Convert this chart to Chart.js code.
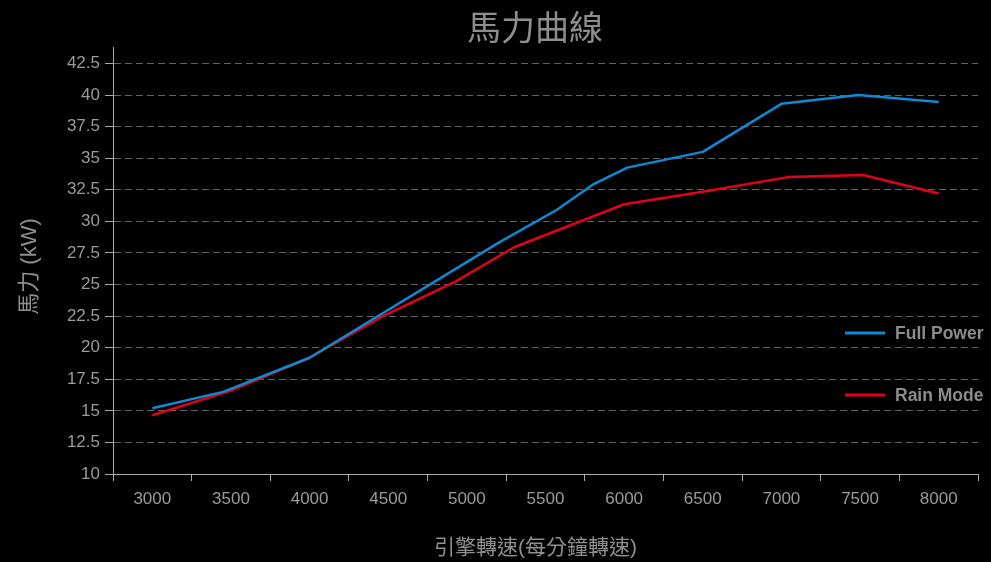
<!DOCTYPE html>
<html>
<head>
<meta charset="utf-8">
<title>馬力曲線</title>
<script src="https://cdn.jsdelivr.net/npm/chart.js@4.4.1/dist/chart.umd.min.js"></script>
<style>
	html, body { margin: 0; padding: 0; background: #000; }
	#wrap { width: 991px; height: 562px; position: relative; background: #000; }
</style>
</head>
<body>
<div id="wrap"><canvas id="mycanvas"></canvas></div>
<script>
// category labels shown under the x axis
var rpmLabels = ['3000', '3500', '4000', '4500', '5000', '5500', '6000', '6500', '7000', '7500', '8000'];
var yTickValues = [10, 12.5, 15, 17.5, 20, 22.5, 25, 27.5, 30, 32.5, 35, 37.5, 40, 42.5];

var seriesNames = ['Full Power', 'Rain Mode'];

// measured points (rpm, kW)
var fullPowerRpm = [3000, 3450, 4000, 5200, 5570, 5800, 6020, 6500, 7000, 7490, 8000];
var fullPowerKw  = [15.2, 16.5, 19.2, 28.3, 30.9, 32.9, 34.25, 35.5, 39.3, 40.0, 39.45];

var rainModeRpm = [3000, 3500, 4000, 4460, 4930, 5300, 6000, 6500, 7040, 7520, 8000];
var rainModeKw  = [14.65, 16.6, 19.2, 22.45, 25.25, 27.95, 31.35, 32.35, 33.5, 33.67, 32.2];

var FONT = "'Liberation Sans', 'Noto Sans CJK TC', sans-serif";

function toPoints(xs, ys) {
	var pts = [];
	for (var i in xs) {
		pts.push({x: xs[i], y: ys[i]});
	}
	return pts;
}

// titles and legend, placed like the original
var textPlugin = {
	id: 'texts',
	afterDraw: function(chart) {
		var ctx = chart.ctx;
		ctx.save();
		ctx.fillStyle = '#8e8e8e';
		ctx.textAlign = 'center';
		ctx.textBaseline = 'middle';
		ctx.font = '34px ' + FONT;
		ctx.fillText('馬力曲線', 535, 31);
		ctx.font = '21px ' + FONT;
		ctx.fillText('引擎轉速(每分鐘轉速)', 535.5, 548.5);
		ctx.translate(30, 266.5);
		ctx.rotate(-Math.PI / 2);
		ctx.font = '22px ' + FONT;
		ctx.fillText('馬力 (kW)', 0, 0);
		ctx.restore();

		ctx.save();
		var ds = chart.data.datasets;
		for (var i = 0; i < ds.length; i++) {
			var y = 333 + i * 62;
			ctx.strokeStyle = ds[i].borderColor;
			ctx.lineWidth = 3;
			ctx.beginPath();
			ctx.moveTo(845, y);
			ctx.lineTo(885, y);
			ctx.stroke();
			ctx.fillStyle = '#8c8c8c';
			ctx.textAlign = 'left';
			ctx.textBaseline = 'middle';
			ctx.font = 'bold 17.5px ' + FONT;
			ctx.fillText(ds[i].label, 895, y + 1);
		}
		ctx.restore();
	}
};

var chartdata = {
	datasets: [
		{
			label: seriesNames[0],
			data: toPoints(fullPowerRpm, fullPowerKw),
			borderColor: '#0e8ad2',
			borderWidth: 2.5,
			pointRadius: 0,
			borderJoinStyle: 'round',
			tension: 0,
			xAxisID: 'x',
			yAxisID: 'y'
		},
		{
			label: seriesNames[1],
			data: toPoints(rainModeRpm, rainModeKw),
			borderColor: '#e2001a',
			borderWidth: 2.5,
			pointRadius: 0,
			borderJoinStyle: 'round',
			tension: 0,
			xAxisID: 'x',
			yAxisID: 'y'
		}
	]
};

var ctx = document.getElementById('mycanvas');

var lineGraph = new Chart(ctx, {
	type: 'line',
	data: chartdata,
	plugins: [textPlugin],
	options: {
		responsive: true,
		maintainAspectRatio: false,
		animation: false,
		layout: { padding: { top: 47, right: 13, left: 0, bottom: 0 } },
		plugins: {
			legend: { display: false },
			title: { display: false },
			tooltip: { enabled: false }
		},
		scales: {
			x: {
				type: 'linear',
				min: 2750,
				max: 8250,
				display: false
			},
			xc: {
				type: 'category',
				labels: rpmLabels,
				position: 'bottom',
				offset: true,
				grid: { drawOnChartArea: false, offset: true, tickLength: 7, tickColor: '#aaa', tickWidth: 1 },
				border: { color: '#aaa', width: 1 },
				ticks: { color: '#9a9a9a', font: { size: 17, family: FONT }, padding: 8, autoSkip: false, maxRotation: 0 },
				afterFit: function(s) { s.height = 88; }
			},
			y: {
				type: 'linear',
				min: 10,
				max: 43.8,
				afterBuildTicks: function(s) {
					s.ticks = yTickValues.map(function(v) { return {value: v}; });
				},
				grid: {
					color: function(c) { return (c.tick && c.tick.value === 10) ? 'rgba(0,0,0,0)' : '#636363'; },
					tickColor: '#aaa',
					tickLength: 8,
					lineWidth: 1
				},
				border: { color: '#aaa', width: 1, dash: [7, 4] },
				ticks: { color: '#9a9a9a', font: { size: 17, family: FONT }, padding: 5 },
				afterFit: function(s) { s.width = 113; }
			}
		}
	}
});
</script>
</body>
</html>
